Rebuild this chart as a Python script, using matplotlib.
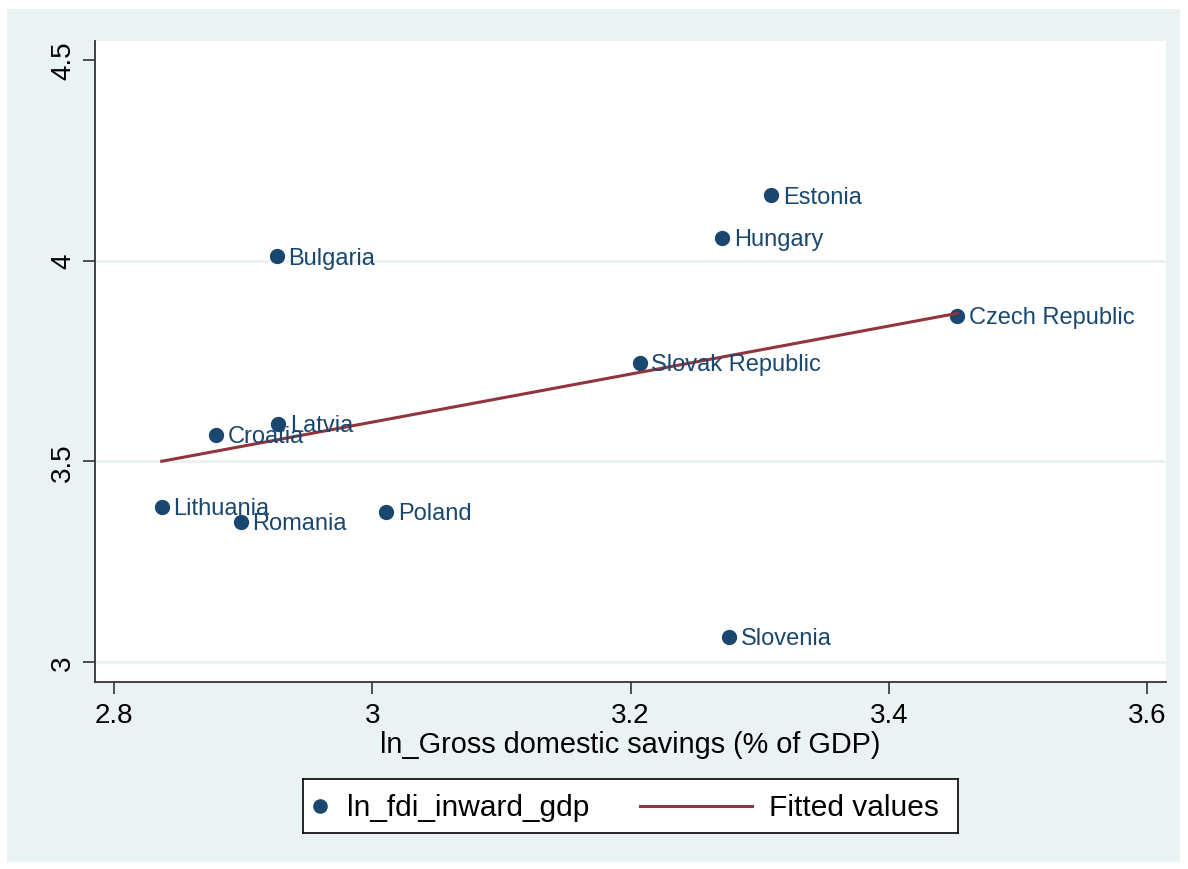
import numpy as np
import matplotlib
matplotlib.use("Agg")
import matplotlib.pyplot as plt
from matplotlib.patches import Rectangle

plt.rcParams['font.family'] = ['Liberation Sans', 'DejaVu Sans']

# data
countries = ["Estonia", "Hungary", "Bulgaria", "Czech Republic", "Slovak Republic",
             "Latvia", "Croatia", "Lithuania", "Romania", "Poland", "Slovenia"]
ln_savings = [3.309, 3.271, 2.926, 3.453, 3.207, 2.927, 2.879, 2.837, 2.898, 3.011, 3.276]
ln_fdi = [4.163, 4.056, 4.011, 3.862, 3.745, 3.593, 3.566, 3.386, 3.349, 3.374, 3.062]
series_names = ["ln_fdi_inward_gdp", "Fitted values"]

navy = "#1A476F"
maroon = "#90353B"
bg = "#EAF2F3"

fig = plt.figure(figsize=(11.88, 8.70), dpi=100)
fig.patch.set_facecolor("white")
fig.patches.append(Rectangle((7 / 1188, 7 / 870), 1173 / 1188, 853 / 870,
                             transform=fig.transFigure, facecolor=bg,
                             edgecolor="none", zorder=-10))

ax = fig.add_axes([95 / 1188, 187 / 870, 1071 / 1188, 641 / 870])
ax.set_facecolor("white")

x = np.array(ln_savings)
y = np.array(ln_fdi)
b, a = np.polyfit(x, y, 1)
xs = np.array([x.min(), x.max()])

for yy in [3, 3.5, 4]:
    ax.axhline(yy, color=bg, lw=2.2, zorder=0)

ax.scatter(x, y, s=100, color=navy, zorder=2)
ax.plot(xs, a + b * xs, color=maroon, lw=2.2, zorder=3)

for c, xi, yi in zip(countries, x, y):
    ax.annotate(c, (xi, yi), xytext=(8.5, -1), textcoords="offset points",
                va="center", ha="left", fontsize=17, color=navy, zorder=4)

ax.set_xlim(2.7853, 3.6147)
ax.set_ylim(2.950, 4.547)
ax.set_xticks([2.8, 3.0, 3.2, 3.4, 3.6])
ax.set_xticklabels(["2.8", "3", "3.2", "3.4", "3.6"])
ax.set_yticks([3, 3.5, 4, 4.5])
ax.set_yticklabels(["3", "3.5", "4", "4.5"], rotation=90, va="center")
ax.tick_params(axis="both", direction="out", length=8.5, width=1.2, labelsize=20,
               color="#333333", pad=6)
ax.tick_params(axis="y", pad=5)
for s in ["top", "right"]:
    ax.spines[s].set_visible(False)
for s in ["left", "bottom"]:
    ax.spines[s].set_color("#333333")
    ax.spines[s].set_linewidth(1.3)

ax.set_xlabel("ln_Gross domestic savings (% of GDP)", fontsize=20.8, labelpad=1)

# legend box drawn as its own small axes (Stata-style key layout)
lg = fig.add_axes([303 / 1188, 36 / 870, 655 / 1188, 54 / 870])
lg.set_xlim(0, 655)
lg.set_ylim(0, 54)
lg.set_xticks([])
lg.set_yticks([])
lg.set_facecolor("white")
for s in lg.spines.values():
    s.set_color("black")
    s.set_linewidth(1.2)
lg.plot([17], [27], "o", color=navy, markersize=9.5)
lg.text(44, 26, series_names[0], fontsize=21.5, va="center", ha="left")
lg.plot([337, 449], [27, 27], color=maroon, lw=2.2)
lg.text(466, 26, series_names[1], fontsize=21.5, va="center", ha="left")

fig.savefig("out.png", dpi=100)
